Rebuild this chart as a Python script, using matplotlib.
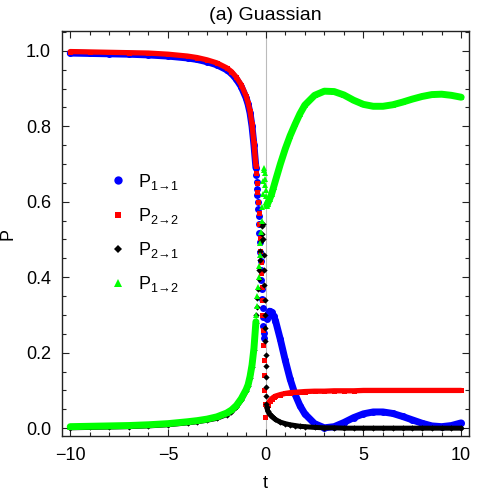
import matplotlib
matplotlib.use("Agg")
import matplotlib.pyplot as plt
from matplotlib.lines import Line2D
from matplotlib.ticker import MultipleLocator, FormatStrFormatter

plt.rcParams['font.family'] = ['Liberation Sans', 'DejaVu Sans']
plt.rcParams['mathtext.fontset'] = 'custom'
plt.rcParams['mathtext.rm'] = 'Liberation Sans'
plt.rcParams['mathtext.it'] = 'Liberation Sans'
plt.rcParams['axes.unicode_minus'] = True

# ---------------- data ----------------
title = "(a) Guassian"
series_labels = [r"$\mathrm{P}_{1\!\rightarrow\!1}$", r"$\mathrm{P}_{2\!\rightarrow\!2}$",
                 r"$\mathrm{P}_{2\!\rightarrow\!1}$", r"$\mathrm{P}_{1\!\rightarrow\!2}$"]

t_left = [-10, -9, -8, -7, -6, -5, -4, -3.5, -3, -2.5, -2, -1.75, -1.5, -1.25,
          -1.0, -0.9, -0.8, -0.7, -0.6, -0.5]
p11_left = [0.994, 0.993, 0.992, 0.991, 0.989, 0.986, 0.981, 0.977, 0.971, 0.963,
            0.950, 0.940, 0.925, 0.905, 0.875, 0.858, 0.835, 0.800, 0.750, 0.690]
p22_left = [0.998, 0.997, 0.996, 0.995, 0.994, 0.991, 0.986, 0.982, 0.976, 0.968,
            0.955, 0.945, 0.930, 0.910, 0.880, 0.862, 0.840, 0.805, 0.755, 0.695]
p21_left = [0.001, 0.002, 0.003, 0.004, 0.006, 0.009, 0.014, 0.017, 0.021, 0.026,
            0.036, 0.044, 0.056, 0.074, 0.098, 0.111, 0.133, 0.163, 0.208, 0.278]
p12_left = [0.004, 0.005, 0.006, 0.007, 0.009, 0.012, 0.017, 0.020, 0.024, 0.030,
            0.040, 0.048, 0.060, 0.078, 0.102, 0.115, 0.137, 0.167, 0.212, 0.282]

t11_mid = [-0.48, -0.46, -0.44, -0.42, -0.40, -0.38, -0.36, -0.34, -0.32, -0.30, -0.28,
           -0.26, -0.24, -0.22, -0.20, -0.18, -0.16, -0.14, -0.12, -0.10, -0.08]
p11_mid = [0.670, 0.652, 0.635, 0.618, 0.600, 0.582, 0.562, 0.540, 0.517, 0.493, 0.468,
           0.443, 0.418, 0.393, 0.368, 0.343, 0.318, 0.295, 0.272, 0.252, 0.240]

t22_mid = [-0.48, -0.45, -0.42, -0.39, -0.36, -0.33, -0.30, -0.27, -0.25, -0.23, -0.21,
           -0.19, -0.17, -0.15, -0.13, -0.11, -0.09, -0.07, -0.05, -0.03]
p22_mid = [0.675, 0.650, 0.625, 0.600, 0.570, 0.540, 0.505, 0.470, 0.440, 0.410, 0.375,
           0.340, 0.300, 0.260, 0.220, 0.180, 0.140, 0.100, 0.065, 0.030]

t21_mid = [-0.48, -0.45, -0.42, -0.39, -0.36, -0.33, -0.30, -0.27, -0.24, -0.21, -0.18,
           -0.15, -0.13, -0.11, -0.09, -0.07, -0.05, -0.04, -0.03, -0.02, -0.01, 0.0,
           0.01, 0.02, 0.03, 0.04]
p21_mid = [0.300, 0.320, 0.345, 0.370, 0.395, 0.420, 0.445, 0.470, 0.495, 0.515, 0.535,
           0.540, 0.500, 0.460, 0.420, 0.380, 0.340, 0.300, 0.265, 0.230, 0.195, 0.165,
           0.135, 0.110, 0.085, 0.065]

t12_mid = [-0.48, -0.45, -0.42, -0.39, -0.36, -0.33, -0.30, -0.27, -0.24, -0.21, -0.18,
           -0.15, -0.12, -0.10, -0.08, -0.06, -0.04, -0.02, 0.0, 0.02, 0.04]
p12_mid = [0.300, 0.325, 0.350, 0.375, 0.400, 0.430, 0.460, 0.490, 0.520, 0.550, 0.585,
           0.620, 0.655, 0.685, 0.690, 0.675, 0.660, 0.645, 0.630, 0.615, 0.600]

t_right = [0.06, 0.1, 0.2, 0.3, 0.4, 0.5, 0.75, 1.0, 1.25, 1.5, 1.75, 2.0, 2.5, 3.0,
           3.5, 4.0, 4.5, 5.0, 5.5, 6.0, 6.5, 7.0, 7.5, 8.0, 8.5, 9.0, 9.5, 10.0]
p11_right = [0.290, 0.300, 0.310, 0.307, 0.298, 0.285, 0.235, 0.180, 0.130, 0.090,
             0.060, 0.038, 0.012, 0.001, 0.004, 0.015, 0.028, 0.038, 0.043, 0.043,
             0.039, 0.031, 0.022, 0.013, 0.006, 0.004, 0.007, 0.014]
p22_right = [0.055, 0.062, 0.072, 0.078, 0.082, 0.085, 0.089, 0.092, 0.094, 0.095,
             0.096, 0.097, 0.098, 0.098, 0.099, 0.099, 0.099, 0.100, 0.100, 0.100,
             0.100, 0.100, 0.100, 0.100, 0.100, 0.100, 0.100, 0.100]
p21_right = [0.055, 0.046, 0.037, 0.031, 0.027, 0.023, 0.016, 0.012, 0.009, 0.007,
             0.005, 0.004, 0.002, 0.001, 0.001, 0.000, 0.000, 0.000, 0.000, 0.000,
             0.000, 0.000, 0.000, 0.000, 0.000, 0.000, 0.000, 0.000]
p12_right = [0.590, 0.595, 0.607, 0.620, 0.638, 0.656, 0.700, 0.740, 0.775, 0.805,
             0.833, 0.856, 0.882, 0.893, 0.892, 0.883, 0.869, 0.858, 0.853, 0.853,
             0.857, 0.864, 0.872, 0.879, 0.884, 0.885, 0.882, 0.877]

x_major = [-10, -5, 0, 5, 10]
y_major = [0.0, 0.2, 0.4, 0.6, 0.8, 1.0]

# ---------------- figure ----------------
fig = plt.figure(figsize=(5.0, 4.95), dpi=100)
ax = fig.add_axes([0.124, 0.119, 0.814, 0.818])

ax.axvline(0, color='#bbbbbb', lw=0.8, zorder=0)

styles = [
    dict(color='#0000ff', marker='o', ms=5.0, lw=5.0),
    dict(color='#ff0000', marker='s', ms=3.6, lw=3.8),
    dict(color='#000000', marker='D', ms=3.2, lw=3.6),
    dict(color='#00ff00', marker='^', ms=4.6, lw=5.0),
]
data = [
    (p11_left, t11_mid, p11_mid, p11_right),
    (p22_left, t22_mid, p22_mid, p22_right),
    (p21_left, t21_mid, p21_mid, p21_right),
    (p12_left, t12_mid, p12_mid, p12_right),
]
handles = []
for i, ((pl, tm, pm, pr), st) in enumerate(zip(data, styles)):
    z = 2 + i
    ax.plot(t_left, pl, color=st['color'], lw=st['lw'], solid_capstyle='round',
            solid_joinstyle='round', zorder=z)
    ax.plot(t_right, pr, color=st['color'], lw=st['lw'], solid_capstyle='round',
            solid_joinstyle='round', zorder=z)
    ax.plot(list(t_left) + list(tm) + list(t_right), list(pl) + list(pm) + list(pr),
            ls='none', marker=st['marker'], ms=st['ms'], color=st['color'],
            mec=st['color'], mew=0, zorder=z)
    handles.append(Line2D([], [], ls='none', marker=st['marker'], ms=st['ms'] + 1,
                          color=st['color'], mew=0))

ax.set_xlim(-10.42, 10.4)
ax.set_ylim(-0.021, 1.052)
ax.set_xticks(x_major)
ax.set_yticks(y_major)
ax.xaxis.set_minor_locator(MultipleLocator(1))
ax.yaxis.set_minor_locator(MultipleLocator(0.05))
ax.yaxis.set_major_formatter(FormatStrFormatter('%.1f'))
ax.tick_params(which='both', direction='in', top=True, right=True, width=0.8,
               color='#222222', labelsize=13)
ax.tick_params(which='major', length=5)
ax.tick_params(which='minor', length=3)
ax.tick_params(axis='x', which='major', pad=8)
ax.tick_params(axis='y', which='major', pad=8)
for sp in ax.spines.values():
    sp.set_linewidth(1.0)
    sp.set_color('#222222')

ax.set_xlabel('t', fontsize=13, labelpad=8)
ax.set_ylabel('P', fontsize=13, labelpad=7)
ax.set_title(title, fontsize=14, pad=8)

ax.legend(handles, series_labels, loc='upper left', bbox_to_anchor=(0.097, 0.675),
          frameon=False, fontsize=13, handlelength=0.8, handletextpad=0.7,
          labelspacing=0.78, borderpad=0)

fig.savefig('out.png', dpi=100)
